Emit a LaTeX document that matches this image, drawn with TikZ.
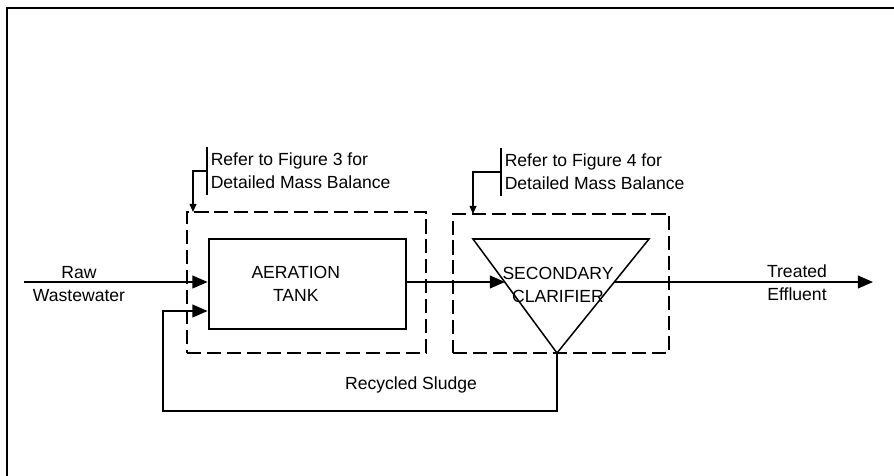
\documentclass[tikz,border=0pt]{standalone}
\usepackage{fontspec}
\setmainfont{Liberation Sans}
\usetikzlibrary{arrows.meta, positioning}

\begin{document}
\begin{tikzpicture}[x=0.03cm, y=-0.03cm, font=\fontsize{15}{19.5}\selectfont]
\tikzstyle{flow} = [line width=1.2pt, -{Triangle[length=13pt, width=11pt]}]
\tikzstyle{tank} = [rectangle, draw, line width=2.4pt, minimum width=5.91cm, minimum height=2.7cm]
\tikzstyle{envelope} = [rectangle, draw, line width=1pt, dash pattern=on 12pt off 5pt]
\tikzstyle{callout} = [align=left, inner xsep=3pt, inner ysep=5pt]
\tikzstyle{lead} = [line width=1pt, -{Triangle[length=7pt, width=6pt]}]

\useasboundingbox (0,0) rectangle (894,476);
\draw[line width=1.2pt] (7,476) -- (7,8) -- (894,8);

% mass balance envelopes
\node (aerbox) [envelope, minimum width=7.17cm, minimum height=4.23cm] at (306.5,282.5) {};
\node (clarbox) [envelope, minimum width=6.48cm, minimum height=4.17cm] at (561,283.5) {};

% process units
\node (aeration) [tank] at (307.5,284) {};
\node (aertext) [align=center] at ([xshift=-10pt]aeration.center) {AERATION\\TANK};

\coordinate (clarnw) at (473,239);
\coordinate (clarne) at (649,239);
\coordinate (clarap) at (557,353);
\draw[line width=1.3pt] (clarnw) -- (clarne) -- (clarap) -- cycle;
\node (clartext) [align=center] at (558,285) {SECONDARY\\CLARIFIER};

% flows
\coordinate (rawin) at (24,282);
\coordinate (clarin) at (505,282);
\coordinate (clarout) at (614,282);
\coordinate (effout) at (873,282);
\coordinate (sludge) at (163,311);

\node (raw) [align=center] at (79,284) {Raw\\Wastewater};
\node (treated) [align=center] at (797,283) {Treated\\Effluent};

\draw[flow] (rawin) -- (rawin -| aeration.west);
\draw[flow] (aeration.east |- clarin) -- (clarin);
\draw[flow] (clarout) -- (effout);
\draw[flow] (clarap) -- ++(0,58) -| (sludge) -- (sludge -| aeration.west);
\node (sludgelbl) at (411,385) {Recycled Sludge};

% callouts
\node (refer3) [callout, anchor=west] at (207,171) {Refer to Figure 3 for\\Detailed Mass Balance};
\draw[line width=1pt] (refer3.north west) -- (refer3.south west);
\coordinate (tip3) at (193,212);
\draw[lead] (refer3.west) -| (tip3);

\node (refer4) [callout, anchor=west] at (501,172) {Refer to Figure 4 for\\Detailed Mass Balance};
\draw[line width=1pt] (refer4.north west) -- (refer4.south west);
\coordinate (tip4) at (473,214);
\draw[lead] (refer4.west) -| (tip4);

\end{tikzpicture}
\end{document}
